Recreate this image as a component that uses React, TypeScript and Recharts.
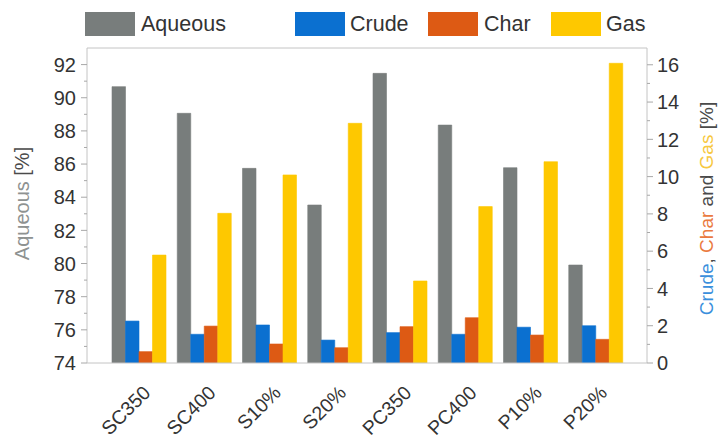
import React from "react";
import { BarChart, Bar, XAxis, YAxis, Legend, ReferenceLine } from "recharts";

const categories = ["SC350", "SC400", "S10%", "S20%", "PC350", "PC400", "P10%", "P20%"];
const aqueous = [90.67, 89.06, 85.74, 83.53, 91.47, 88.35, 85.78, 79.91];
const crude = [2.25, 1.54, 2.04, 1.23, 1.63, 1.54, 1.92, 2.0];
const charV = [0.61, 1.98, 1.02, 0.82, 1.95, 2.43, 1.5, 1.27];
const gas = [5.79, 8.03, 10.09, 12.86, 4.4, 8.39, 10.8, 16.08];

const seriesNames = ["Aqueous", "Crude", "Char", "Gas"];

const leftTicks = [74, 75, 76, 77, 78, 79, 80, 81, 82, 83, 84, 85, 86, 87, 88, 89, 90, 91, 92];
const rightTicks = [0, 1, 2, 3, 4, 5, 6, 7, 8, 9, 10, 11, 12, 13, 14, 15, 16];

const data = categories.map((name, i) => ({
  name,
  Aqueous: aqueous[i],
  Crude: crude[i],
  Char: charV[i],
  Gas: gas[i],
}));

const COLORS: Record<string, string> = {
  Aqueous: "#787d7c",
  Crude: "#0b70d0",
  Char: "#dd5a14",
  Gas: "#fec800",
};

const FONT = "'Liberation Sans', Arial, Helvetica, sans-serif";
const AXIS = "#c4c4c4";
const TEXT = "#333333";

const legendLeft = [
  { swatch: 85, text: 141 },
  { swatch: 295, text: 350 },
  { swatch: 428, text: 484 },
  { swatch: 551, text: 606 },
];

const LegendContent = () => {
  return (
    <div style={{ position: "relative", width: 718, height: 48, fontFamily: FONT }}>
      {seriesNames.map((name, i) => (
        <React.Fragment key={name}>
          <div
            style={{
              position: "absolute",
              left: legendLeft[i].swatch,
              top: 12,
              width: 50,
              height: 24,
              background: COLORS[name],
            }}
          />
          <div
            style={{
              position: "absolute",
              left: legendLeft[i].text,
              top: 10,
              height: 28,
              lineHeight: "28px",
              fontSize: 21.5,
              color: TEXT,
              whiteSpace: "nowrap",
            }}
          >
            {name}
          </div>
        </React.Fragment>
      ))}
    </div>
  );
};

const LeftTick = (props: any) => {
  const { x, y, payload } = props;
  const v = payload.value;
  const major = v % 2 === 0;
  return (
    <g>
      <line x1={x} x2={x - (major ? 6 : 3)} y1={y} y2={y} stroke="#a8a8a8" strokeWidth={1} />
      {major && (
        <text x={x - 11} y={y} dy="0.36em" textAnchor="end" fontSize={20} fill={TEXT} fontFamily={FONT}>
          {v}
        </text>
      )}
    </g>
  );
};

const RightTick = (props: any) => {
  const { x, y, payload } = props;
  const v = payload.value;
  const major = v % 2 === 0;
  return (
    <g>
      <line x1={x} x2={x + (major ? 6 : 3)} y1={y} y2={y} stroke="#a8a8a8" strokeWidth={1} />
      {major && (
        <text x={x + 10} y={y} dy="0.36em" textAnchor="start" fontSize={20} fill={TEXT} fontFamily={FONT}>
          {v}
        </text>
      )}
    </g>
  );
};

const XTick = (props: any) => {
  const { x, y, payload } = props;
  return (
    <g transform={`translate(${x + 13},${y + 23})`}>
      <text textAnchor="end" transform="rotate(-45)" fontSize={19.5} fill={TEXT} fontFamily={FONT}>
        {payload.value}
      </text>
    </g>
  );
};

const LeftLabel = (props: any) => {
  const vb = props.viewBox || { x: 0, y: 48, width: 87, height: 315 };
  const cx = vb.x + 22;
  const cy = vb.y + vb.height / 2 - 2;
  return (
    <text
      x={cx}
      y={cy}
      transform={`rotate(-90, ${cx}, ${cy})`}
      textAnchor="middle"
      dominantBaseline="central"
      fontSize={20}
      fontFamily={FONT}
    >
      <tspan fill="#8e9291">Aqueous </tspan>
      <tspan fill="#4a4a4a">[%]</tspan>
    </text>
  );
};

const RightLabel = (props: any) => {
  const vb = props.viewBox || { x: 647, y: 48, width: 71, height: 315 };
  const cx = vb.x + 59;
  const cy = vb.y + vb.height / 2 + 3;
  return (
    <text
      x={cx}
      y={cy}
      dy={7}
      transform={`rotate(-90, ${cx}, ${cy})`}
      textAnchor="middle"
      fontSize={19}
      fontFamily={FONT}
    >
      <tspan fill="#3a8fdc">Crude</tspan>
      <tspan fill="#4a4a4a">, </tspan>
      <tspan fill="#ea7a40">Char</tspan>
      <tspan fill="#4a4a4a"> and </tspan>
      <tspan fill="#f7c840">Gas</tspan>
      <tspan fill="#4a4a4a"> [%]</tspan>
    </text>
  );
};

export default function App() {
  return (
    <div style={{ position: "absolute", left: 0, top: 0, width: 718, height: 439, background: "#fff" }}>
      <BarChart
        width={718}
        height={439}
        data={data}
        margin={{ top: 0, right: 0, bottom: 0, left: 0 }}
        barGap={0}
      >
        <Legend
          verticalAlign="top"
          align="left"
          content={LegendContent}
          wrapperStyle={{ left: 0, top: 0, width: 718, height: 48 }}
        />
        <XAxis
          dataKey="name"
          interval={0}
          padding={{ left: 19, right: 19 }}
          tickLine={false}
          axisLine={{ stroke: AXIS }}
          tick={<XTick />}
          height={76}
        />
        <YAxis
          yAxisId="left"
          orientation="left"
          type="number"
          domain={[74, 93]}
          ticks={leftTicks}
          interval={0}
          allowDataOverflow
          width={87}
          tickSize={0}
          tickMargin={0}
          axisLine={{ stroke: AXIS }}
          tick={<LeftTick />}
          label={{ content: LeftLabel }}
        />
        <YAxis
          yAxisId="right"
          orientation="right"
          type="number"
          domain={[0, 16.9]}
          ticks={rightTicks}
          interval={0}
          allowDataOverflow
          width={71}
          tickSize={0}
          tickMargin={0}
          axisLine={{ stroke: AXIS }}
          tick={<RightTick />}
          label={{ content: RightLabel }}
        />
        <ReferenceLine yAxisId="left" y={93} stroke={AXIS} ifOverflow="extendDomain" />
        <Bar dataKey="Aqueous" yAxisId="left" fill={COLORS.Aqueous} stroke={COLORS.Aqueous} strokeWidth={0.6} barSize={13.5} isAnimationActive={false} />
        <Bar dataKey="Crude" yAxisId="right" fill={COLORS.Crude} stroke={COLORS.Crude} strokeWidth={0.6} barSize={13.5} isAnimationActive={false} />
        <Bar dataKey="Char" yAxisId="right" fill={COLORS.Char} stroke={COLORS.Char} strokeWidth={0.6} barSize={13.5} isAnimationActive={false} />
        <Bar dataKey="Gas" yAxisId="right" fill={COLORS.Gas} stroke={COLORS.Gas} strokeWidth={0.6} barSize={13.5} isAnimationActive={false} />
      </BarChart>
    </div>
  );
}
